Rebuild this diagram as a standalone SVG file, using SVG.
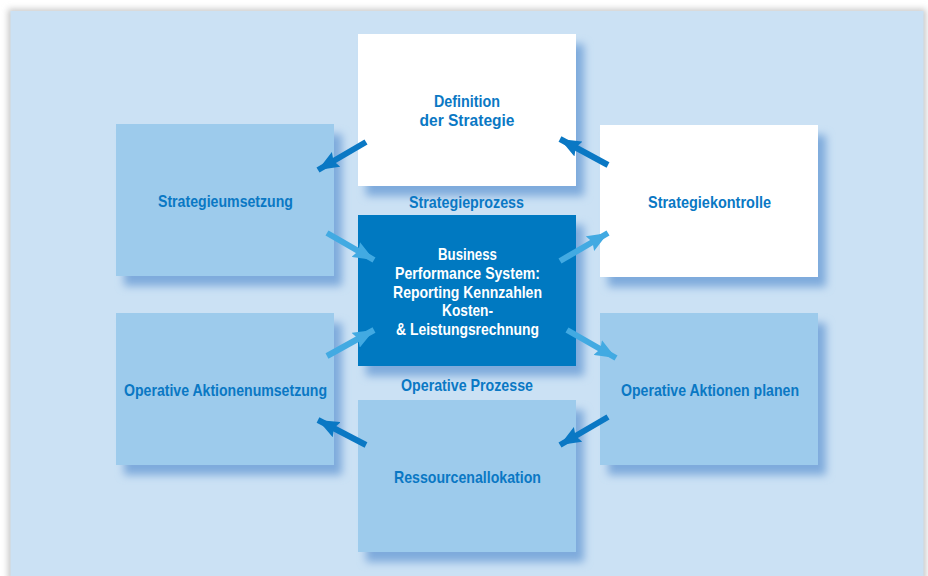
<svg xmlns="http://www.w3.org/2000/svg" width="928" height="576" viewBox="0 0 928 576">
<defs>
<filter id="sh" x="-20%" y="-20%" width="150%" height="150%"><feGaussianBlur stdDeviation="4"/></filter>
<filter id="pg" x="-5%" y="-5%" width="110%" height="110%"><feGaussianBlur stdDeviation="3"/></filter>
<marker id="hd" viewBox="0 0 21 17" refX="21" refY="8.5" markerWidth="21" markerHeight="17" markerUnits="userSpaceOnUse" orient="auto"><path d="M0,0 L21,8.5 L0,17 L3,8.5 z" fill="#0A78C4"/></marker>
<marker id="hl" viewBox="0 0 21 17" refX="21" refY="8.5" markerWidth="21" markerHeight="17" markerUnits="userSpaceOnUse" orient="auto"><path d="M0,0 L21,8.5 L0,17 L3,8.5 z" fill="#42AAE2"/></marker>
<style>
.t{font-family:"Liberation Sans",Arial,sans-serif;font-weight:bold;font-size:17px;fill:#0A78C4;text-anchor:middle}
.w{fill:#fff}
.s{fill:#7EAADC;filter:url(#sh)}
.lb{fill:#9DCBEC}
.wb{fill:#fff}
.db{fill:#0079C1}
.ad{stroke:#0A78C4;stroke-width:6;marker-end:url(#hd)}
.al{stroke:#42AAE2;stroke-width:6;marker-end:url(#hl)}
</style>
</defs>
<rect width="928" height="576" fill="#fff"/>
<rect x="8" y="9" width="918" height="572" fill="#c8c8c8" filter="url(#pg)"/>
<rect x="10.5" y="11" width="913" height="565" fill="#CBE1F4"/>

<g id="n-definition">
<rect class="s" x="366" y="44" width="218" height="152"/>
<rect class="wb" x="358" y="34" width="218" height="152"/>
<text class="t" x="467" y="107" textLength="66" lengthAdjust="spacingAndGlyphs">Definition</text>
<text class="t" x="467" y="126" textLength="95" lengthAdjust="spacingAndGlyphs">der Strategie</text>
</g>
<g id="n-umsetzung">
<rect class="s" x="124" y="134" width="218" height="152"/>
<rect class="lb" x="116" y="124" width="218" height="152"/>
<text class="t" x="225.5" y="206.5" textLength="135" lengthAdjust="spacingAndGlyphs">Strategieumsetzung</text>
</g>
<g id="n-kontrolle">
<rect class="s" x="608" y="135" width="218" height="152"/>
<rect class="wb" x="600" y="125" width="218" height="152"/>
<text class="t" x="709.5" y="207.5" textLength="123" lengthAdjust="spacingAndGlyphs">Strategiekontrolle</text>
</g>
<g id="n-aktionenumsetzung">
<rect class="s" x="124" y="323" width="218" height="152"/>
<rect class="lb" x="116" y="313" width="218" height="152"/>
<text class="t" x="225.5" y="395.5" textLength="203" lengthAdjust="spacingAndGlyphs">Operative Aktionenumsetzung</text>
</g>
<g id="n-planen">
<rect class="s" x="608" y="323" width="218" height="152"/>
<rect class="lb" x="600" y="313" width="218" height="152"/>
<text class="t" x="710" y="395.5" textLength="178" lengthAdjust="spacingAndGlyphs">Operative Aktionen planen</text>
</g>
<g id="n-ressourcen">
<rect class="s" x="366" y="410" width="218" height="152"/>
<rect class="lb" x="358" y="400" width="218" height="152"/>
<text class="t" x="467.5" y="482.5" textLength="147" lengthAdjust="spacingAndGlyphs">Ressourcenallokation</text>
</g>
<g id="n-center">
<rect class="s" x="366" y="225" width="218" height="151"/>
<rect class="db" x="358" y="215" width="218" height="151"/>
<text class="t w" x="467.5" y="259.5" textLength="59" lengthAdjust="spacingAndGlyphs">Business</text>
<text class="t w" x="467.5" y="278.5" textLength="145" lengthAdjust="spacingAndGlyphs">Performance System:</text>
<text class="t w" x="467.5" y="297.5" textLength="149" lengthAdjust="spacingAndGlyphs">Reporting Kennzahlen</text>
<text class="t w" x="467.5" y="315.5" textLength="51" lengthAdjust="spacingAndGlyphs">Kosten-</text>
<text class="t w" x="467.5" y="334.5" textLength="143" lengthAdjust="spacingAndGlyphs">&amp; Leistungsrechnung</text>
</g>
<g id="labels">
<text class="t" x="466.5" y="207.5" textLength="115" lengthAdjust="spacingAndGlyphs">Strategieprozess</text>
<text class="t" x="467" y="390.5" textLength="132" lengthAdjust="spacingAndGlyphs">Operative Prozesse</text>
</g>
<g id="connectors">
<line class="ad" x1="366" y1="142" x2="318" y2="170"/>
<line class="ad" x1="608" y1="165" x2="560" y2="139"/>
<line class="al" x1="327" y1="233" x2="374" y2="260"/>
<line class="al" x1="560" y1="261" x2="608" y2="233"/>
<line class="al" x1="327" y1="356" x2="374" y2="330"/>
<line class="al" x1="567" y1="330" x2="616" y2="358"/>
<line class="ad" x1="366" y1="445" x2="318" y2="420"/>
<line class="ad" x1="608" y1="417" x2="560" y2="445"/>
</g>
</svg>
